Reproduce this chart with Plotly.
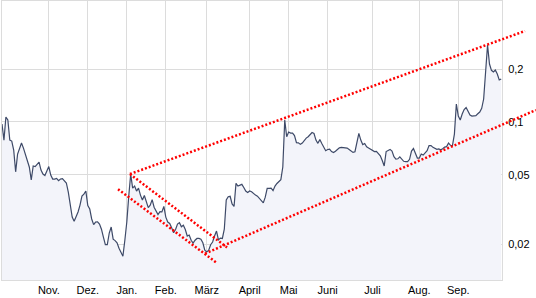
import plotly.graph_objects as go

# trading-day index and closing prices
day = list(range(257))
price = [
    0.0973, 0.0788, 0.1067, 0.1026, 0.0788, 0.0778, 0.0691, 0.0519, 0.0656, 0.0709,
    0.0758, 0.0709, 0.0647, 0.0590, 0.0553, 0.0466, 0.0560, 0.0556, 0.0575, 0.0590,
    0.0531, 0.0504, 0.0494, 0.0524, 0.0556, 0.0497, 0.0472, 0.0472, 0.0476, 0.0462,
    0.0472, 0.0475, 0.0463, 0.0448, 0.0397, 0.0331, 0.0286, 0.0271, 0.0286, 0.0306,
    0.0335, 0.0377, 0.0387, 0.0403, 0.0333, 0.0318, 0.0279, 0.0259, 0.0268, 0.0269,
    0.0261, 0.0244, 0.0220, 0.0199, 0.0199, 0.0232, 0.0251, 0.0214, 0.0210, 0.0204,
    0.0190, 0.0178, 0.0171, 0.0211, 0.0268, 0.0377, 0.0504, 0.0419, 0.0430, 0.0403,
    0.0419, 0.0382, 0.0358, 0.0380, 0.0349, 0.0324, 0.0335, 0.0360, 0.0326, 0.0307,
    0.0296, 0.0307, 0.0306, 0.0329, 0.0286, 0.0268, 0.0263, 0.0249, 0.0233, 0.0243,
    0.0261, 0.0266, 0.0252, 0.0257, 0.0243, 0.0223, 0.0226, 0.0211, 0.0203, 0.0211,
    0.0216, 0.0216, 0.0214, 0.0204, 0.0185, 0.0181, 0.0185, 0.0199, 0.0206, 0.0223,
    0.0238, 0.0212, 0.0217, 0.0216, 0.0244, 0.0358, 0.0374, 0.0376, 0.0340, 0.0329,
    0.0446, 0.0430, 0.0436, 0.0440, 0.0422, 0.0403, 0.0395, 0.0403, 0.0399, 0.0389,
    0.0382, 0.0377, 0.0365, 0.0351, 0.0345, 0.0372, 0.0417, 0.0417, 0.0419, 0.0405,
    0.0430, 0.0445, 0.0457, 0.0468, 0.0553, 0.1026, 0.0823, 0.0876, 0.0864, 0.0864,
    0.0836, 0.0762, 0.0760, 0.0745, 0.0758, 0.0788, 0.0809, 0.0823, 0.0842, 0.0870,
    0.0859, 0.0788, 0.0755, 0.0793, 0.0753, 0.0714, 0.0685, 0.0696, 0.0700, 0.0678,
    0.0669, 0.0680, 0.0696, 0.0712, 0.0716, 0.0716, 0.0716, 0.0709, 0.0697, 0.0682,
    0.0670, 0.0676, 0.0768, 0.0861, 0.0788, 0.0743, 0.0753, 0.0722, 0.0709, 0.0696,
    0.0688, 0.0678, 0.0680, 0.0661, 0.0641, 0.0602, 0.0560, 0.0678, 0.0685, 0.0697,
    0.0682, 0.0634, 0.0614, 0.0616, 0.0632, 0.0612, 0.0596, 0.0593, 0.0593, 0.0612,
    0.0682, 0.0705, 0.0664, 0.0622, 0.0622, 0.0656, 0.0647, 0.0663, 0.0686, 0.0733,
    0.0733, 0.0716, 0.0707, 0.0698, 0.0702, 0.0694, 0.0703, 0.0719, 0.0723, 0.0758,
    0.0736, 0.0733, 0.0853, 0.1267, 0.1081, 0.1026, 0.1110, 0.1178, 0.1209, 0.1150,
    0.1095, 0.1081, 0.1081, 0.1088, 0.1114, 0.1140, 0.1196, 0.1353, 0.1930, 0.2753,
    0.2144, 0.1973, 0.1930, 0.1981, 0.1880, 0.1737, 0.1760,
]

month_labels = ["Nov.", "Dez.", "Jan.", "Feb.", "März", "April", "Mai", "Juni", "Juli", "Aug.", "Sep."]
month_days = [24, 44, 64, 84, 105, 127, 147, 167, 190, 214, 234]

y_ticks = [0.02, 0.05, 0.1, 0.2]
y_labels = ["0,02", "0,05", "0,1", "0,2"]

# trend lines: start/end (day, price)
trend_start_day = [65.6, 65.6, 59.5, 104.1]
trend_start_price = [0.0504, 0.0504, 0.0413, 0.0177]
trend_end_day = [268.2, 115.4, 109.7, 273.8]
trend_end_price = [0.331, 0.0192, 0.0158, 0.117]

LINE = "#3e4a68"
FILL = "#f3f4fa"
GRID = "#dcdcdc"
RED = "#ff0000"
FONT = "Liberation Sans, Arial, sans-serif"

W, H = 536, 298
ml, mr, mt, mb = 2, 0, 1, 18
main_frac = 500 / (W - ml - mr)
x_main_max = 256.41
x_full_max = x_main_max / main_frac
y_range = [-1.903, -0.3087]

fig = go.Figure()
fig.add_trace(go.Scatter(
    x=day, y=price, mode="lines",
    line=dict(color=LINE, width=1.2),
    fill="tozeroy", fillcolor=FILL,
    xaxis="x", yaxis="y", hoverinfo="skip",
))
for sd, sp, ed, ep in zip(trend_start_day, trend_start_price, trend_end_day, trend_end_price):
    fig.add_trace(go.Scatter(
        x=[sd, ed], y=[sp, ep], mode="lines",
        line=dict(color=RED, width=2.5, dash="2px,2px"),
        xaxis="x2", yaxis="y2", hoverinfo="skip",
    ))

fig.update_layout(
    width=W, height=H,
    margin=dict(l=ml, r=mr, t=mt, b=mb, pad=0),
    paper_bgcolor="white",
    plot_bgcolor="rgba(0,0,0,0)",
    showlegend=False,
    font=dict(family=FONT, size=11, color="#000000"),
    xaxis=dict(
        domain=[0, main_frac], range=[0, x_main_max],
        tickmode="array", tickvals=month_days, ticktext=month_labels,
        showgrid=True, gridcolor=GRID, gridwidth=1,
        showline=True, linecolor=GRID, linewidth=1, mirror=True,
        ticks="", zeroline=False, tickfont=dict(size=11, family=FONT, color="#000"),
        anchor="y",
    ),
    yaxis=dict(
        type="log", range=y_range, side="right",
        tickmode="array", tickvals=y_ticks, ticktext=y_labels,
        showgrid=True, gridcolor=GRID, gridwidth=1,
        showline=True, linecolor=GRID, linewidth=1, mirror=True,
        ticks="", zeroline=False, tickfont=dict(size=11, family=FONT, color="#000"),
        anchor="x", ticklabelstandoff=3,
    ),
    xaxis2=dict(domain=[0, 1], range=[0, x_full_max], visible=False, anchor="y2"),
    yaxis2=dict(domain=[0, 1], type="log", range=y_range, visible=False, anchor="x2"),
)

fig.write_html("out.html")
